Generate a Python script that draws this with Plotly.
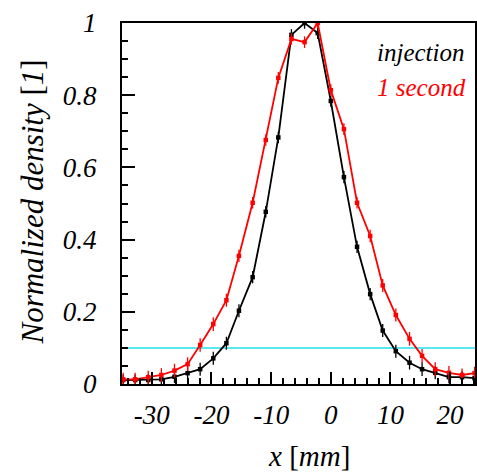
import plotly.graph_objects as go

# ---- data ----
x_mm = [-34.8, -32.8, -30.6, -28.4, -26.2, -24.0, -21.9, -19.7, -17.5, -15.4,
        -13.1, -10.9, -8.8, -6.6, -4.4, -2.2, 0.0, 2.2, 4.4, 6.6,
        8.7, 10.9, 13.2, 15.3, 17.5, 19.8, 22.0, 24.1]

injection = [0.011, 0.011, 0.011, 0.013, 0.020, 0.030, 0.041, 0.071, 0.113, 0.203,
             0.296, 0.477, 0.683, 0.967, 1.000, 0.972, 0.784, 0.573, 0.380, 0.249,
             0.148, 0.091, 0.059, 0.041, 0.031, 0.019, 0.019, 0.016]
injection_err = [0.015, 0.015, 0.016, 0.016, 0.017, 0.017, 0.018, 0.018, 0.018, 0.018,
                 0.017, 0.016, 0.016, 0.016, 0.016, 0.016, 0.016, 0.017, 0.017, 0.017,
                 0.018, 0.018, 0.019, 0.019, 0.018, 0.017, 0.016, 0.016]

one_second = [0.013, 0.013, 0.019, 0.025, 0.037, 0.055, 0.108, 0.166, 0.232, 0.355,
              0.502, 0.676, 0.848, 0.956, 0.947, 1.000, 0.814, 0.706, 0.502, 0.410,
              0.273, 0.191, 0.125, 0.078, 0.041, 0.031, 0.025, 0.030]
one_second_err = [0.018, 0.018, 0.018, 0.019, 0.019, 0.019, 0.019, 0.019, 0.018, 0.017,
                  0.016, 0.016, 0.016, 0.016, 0.016, 0.016, 0.016, 0.016, 0.016, 0.017,
                  0.018, 0.018, 0.019, 0.019, 0.019, 0.019, 0.018, 0.018]

threshold = 0.1
x_range = [-35, 24.17]
y_range = [0, 1]
x_ticks = [-30, -20, -10, 0, 10, 20]
y_ticks = [0, 0.2, 0.4, 0.6, 0.8, 1]
y_ticklabels = ["0", "0.2", "0.4", "0.6", "0.8", "1"]

SERIF = "Liberation Serif"

fig = go.Figure()

fig.add_shape(type="line", xref="paper", yref="y", x0=0, x1=1, y0=threshold, y1=threshold,
              line=dict(color="#22e0e8", width=1.5), layer="below")

for y, e, col, name in [(injection, injection_err, "black", "injection"),
                        (one_second, one_second_err, "#ff0000", "1 second")]:
    fig.add_trace(go.Scatter(
        x=x_mm, y=y, mode="lines+markers", name=name,
        line=dict(color=col, width=1.8),
        marker=dict(symbol="square", size=4.5, color=col),
        error_y=dict(type="data", array=e, visible=True, color=col, thickness=1.3, width=0),
        cliponaxis=True,
    ))

fig.update_layout(
    width=477, height=473,
    margin=dict(l=122, r=0, t=23, b=89),
    paper_bgcolor="white", plot_bgcolor="white",
    showlegend=False,
    font=dict(family=SERIF, size=25, color="black"),
)

fig.update_xaxes(
    range=x_range, showgrid=False, zeroline=False,
    showline=True, linecolor="black", linewidth=2, mirror=True,
    tickmode="array", tickvals=x_ticks, ticktext=[str(v) for v in x_ticks],
    ticks="inside", ticklen=12, tickwidth=1.5, tickcolor="black",
    minor=dict(dtick=2, ticks="inside", ticklen=6, tickwidth=1.5, tickcolor="black"),
    tickfont=dict(family=SERIF, size=27, style="italic", color="black"),
    ticklabelstandoff=6,
)
fig.update_yaxes(
    range=y_range, showgrid=False, zeroline=False,
    showline=True, linecolor="black", linewidth=2, mirror=True,
    tickmode="array", tickvals=y_ticks, ticktext=y_ticklabels,
    ticks="inside", ticklen=13, tickwidth=1.5, tickcolor="black",
    minor=dict(dtick=0.05, ticks="inside", ticklen=6, tickwidth=1.5, tickcolor="black"),
    tickfont=dict(family=SERIF, size=27, style="italic", color="black"),
    ticklabelstandoff=18,
)

fig.add_annotation(text="<i>x</i> [<i>mm</i>]", xref="paper", yref="paper",
                   x=(310 - 122) / 355, y=(384 - 456) / 361, xanchor="center", yanchor="middle",
                   showarrow=False, font=dict(family=SERIF, size=29, color="black"))
fig.add_annotation(text="<i>Normalized density</i> [<i>1</i>]", xref="paper", yref="paper",
                   x=(31 - 122) / 355, y=(384 - 202) / 361, xanchor="center", yanchor="middle",
                   textangle=-90, showarrow=False, font=dict(family=SERIF, size=31, color="black"))
fig.add_annotation(text="<i>injection</i>", xref="paper", yref="paper",
                   x=(468 - 122) / 355, y=(384 - 53) / 361, xanchor="right", yanchor="middle",
                   showarrow=False, font=dict(family=SERIF, size=25, color="black"))
fig.add_annotation(text="<i>1 second</i>", xref="paper", yref="paper",
                   x=(470 - 122) / 355, y=(384 - 87) / 361, xanchor="right", yanchor="middle",
                   showarrow=False, font=dict(family=SERIF, size=25, color="#ff0000"))

fig.write_html("out.html")
